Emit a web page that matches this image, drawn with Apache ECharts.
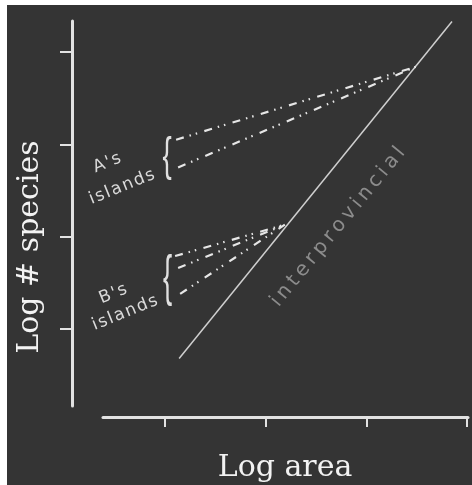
<!DOCTYPE html>
<html>
<head>
<meta charset="utf-8">
<script src="https://cdn.jsdelivr.net/npm/echarts@6/dist/echarts.min.js"></script>
<style>
  html, body { margin: 0; padding: 0; background: #ffffff; }
  #chart { position: absolute; left: 7px; top: 5px; width: 465px; height: 480px; background: #343434; }
</style>
</head>
<body>
<div id="chart"></div>
<script>
const xTicks = [1, 2, 3, 4]
const yTicks = [1, 2, 3, 4]
const interprovincial = [[1.14, 0.68], [3.85, 4.33]]
const aIslandsUpper = [[1.11, 3.05], [3.49, 3.84]]
const aIslandsLower = [[1.13, 2.75], [3.49, 3.84]]
const bIslandsUpper = [[1.10, 1.79], [2.19, 2.13]]
const bIslandsMiddle = [[1.13, 1.66], [2.19, 2.13]]
const bIslandsLower = [[1.15, 1.38], [2.19, 2.13]]

const chart = echarts.init(document.getElementById('chart'))

const hair = s => s.split('').join('\u200A')
const deg = d => d * Math.PI / 180
// long dash then two dots
const dashDot = [8, 6, 1.5, 5, 1.5, 7.5]

const islandLine = (name, data) => ({
  name: name,
  type: 'line',
  data: data,
  showSymbol: false,
  lineStyle: { color: '#e6e6e6', width: 2.2, type: dashDot }
})

const label = (text, x, y, rot, size, color, font) => ({
  type: 'text',
  x: x,
  y: y,
  rotation: rot,
  style: {
    text: text,
    fill: color,
    font: size + 'px ' + font,
    textAlign: 'center',
    textVerticalAlign: 'middle'
  }
})

const brace = (x, y, size, sx) => ({
  type: 'text',
  x: x,
  y: y,
  scaleX: sx,
  style: {
    text: '{',
    fill: '#e0e0e0',
    font: size + 'px "Liberation Sans"',
    textAlign: 'center',
    textVerticalAlign: 'middle'
  }
})

const option = {
  animation: false,
  grid: { left: 96, right: 4, top: 16, bottom: 79 },
  xAxis: {
    type: 'value',
    min: 0.384,
    max: 4.009,
    offset: 11,
    splitLine: { show: false },
    axisLine: { show: true, lineStyle: { color: '#e2e2e2', width: 3 } },
    axisTick: { show: true, customValues: xTicks, length: 10, lineStyle: { color: '#e2e2e2', width: 2 } },
    axisLabel: { show: false }
  },
  yAxis: {
    type: 'value',
    min: 0.166,
    max: 4.336,
    offset: 31,
    splitLine: { show: false },
    axisLine: { show: true, lineStyle: { color: '#e2e2e2', width: 3 } },
    axisTick: { show: true, customValues: yTicks, length: 12, lineStyle: { color: '#e2e2e2', width: 2 } },
    axisLabel: { show: false }
  },
  graphic: [
    label('Log # species', 23, 242, deg(90), 30, '#f2f2f2', '"DejaVu Serif"'),
    label('Log area', 278, 463, 0, 30, '#f2f2f2', '"DejaVu Serif"'),
    label(hair("A's"), 100, 158, deg(22), 17, '#dadada', '"DejaVu Sans"'),
    label(hair('islands'), 115, 182, deg(22), 17, '#dadada', '"DejaVu Sans"'),
    label(hair("B's"), 106, 289, deg(22), 17, '#dadada', '"DejaVu Sans"'),
    label(hair('islands'), 118, 308, deg(22), 17, '#dadada', '"DejaVu Sans"'),
    label('interprovincial'.split('').join('\u2009'), 331, 222, deg(50.6), 20, '#8c8c8c', '"DejaVu Sans"'),
    brace(160, 152, 46, 0.6),
    brace(160.5, 274, 55, 0.5)
  ],
  series: [
    {
      name: 'interprovincial',
      type: 'line',
      data: interprovincial,
      showSymbol: false,
      lineStyle: { color: '#cfcfcf', width: 1.5 }
    },
    islandLine("A's islands upper", aIslandsUpper),
    islandLine("A's islands lower", aIslandsLower),
    islandLine("B's islands upper", bIslandsUpper),
    islandLine("B's islands middle", bIslandsMiddle),
    islandLine("B's islands lower", bIslandsLower)
  ]
}

chart.setOption(option)
</script>
</body>
</html>
